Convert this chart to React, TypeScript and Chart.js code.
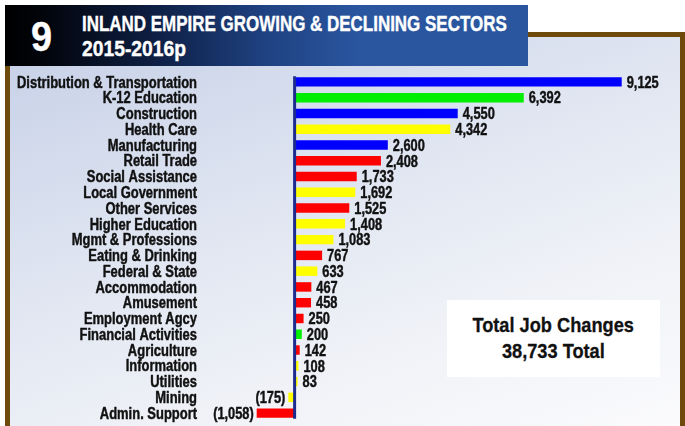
import React, { useEffect, useRef } from "react";
import { Chart, registerables } from "chart.js";

Chart.register(...registerables);

const categories = [
  "Distribution & Transportation",
  "K-12 Education",
  "Construction",
  "Health Care",
  "Manufacturing",
  "Retail Trade",
  "Social Assistance",
  "Local Government",
  "Other Services",
  "Higher Education",
  "Mgmt & Professions",
  "Eating & Drinking",
  "Federal & State",
  "Accommodation",
  "Amusement",
  "Employment Agcy",
  "Financial Activities",
  "Agriculture",
  "Information",
  "Utilities",
  "Mining",
  "Admin. Support",
];

const jobChanges = [
  9125, 6392, 4550, 4342, 2600, 2408, 1733, 1692, 1525, 1408, 1083, 767, 633,
  467, 458, 250, 200, 142, 108, 83, -175, -1058,
];

const BLUE = "#0000ff";
const GREEN = "#00ee00";
const YELLOW = "#ffff00";
const RED = "#ff0000";

const barColors = [
  BLUE, GREEN, BLUE, YELLOW, BLUE, RED, RED, YELLOW, RED, YELLOW, YELLOW, RED,
  YELLOW, RED, RED, RED, GREEN, RED, YELLOW, YELLOW, YELLOW, RED,
];

const titleLine1 = "INLAND EMPIRE GROWING & DECLINING SECTORS";
const titleLine2 = "2015-2016p";
const chartNumber = "9";
const totalLine1 = "Total Job Changes";
const totalLine2 = "38,733 Total";

const FONT = "'Liberation Sans', Arial, Helvetica, sans-serif";
const LABEL_SIZE = 16;
const LABEL_SQUEEZE = 0.81;
const VALUE_SIZE = 16;
const VALUE_SQUEEZE = 0.8;

function fmt(v: number): string {
  const s = Math.abs(v).toLocaleString("en-US");
  return v < 0 ? `(${s})` : s;
}

function squeezedText(
  ctx: CanvasRenderingContext2D,
  text: string,
  x: number,
  y: number,
  align: CanvasTextAlign,
  squeeze: number
) {
  ctx.save();
  ctx.translate(x, y);
  ctx.scale(squeeze, 1);
  ctx.textAlign = align;
  ctx.fillText(text, 0, 0);
  ctx.strokeText(text, 0, 0);
  ctx.restore();
}

const labelPlugin = {
  id: "valueLabels",
  afterDatasetsDraw(chart: any) {
    const ctx: CanvasRenderingContext2D = chart.ctx;
    const meta = chart.getDatasetMeta(0);
    const xs = chart.scales.x;
    const ys = chart.scales.y;
    const x0 = xs.getPixelForValue(0);
    const bars = meta.data;
    if (!bars.length) return;
    const first = bars[0].getProps(["y", "height"], true);
    const last = bars[bars.length - 1].getProps(["y", "height"], true);
    ctx.save();
    // zero axis line
    ctx.strokeStyle = "#1d2b8e";
    ctx.lineWidth = 3;
    ctx.beginPath();
    ctx.moveTo(x0, first.y - first.height / 2 - 1);
    ctx.lineTo(x0, last.y + last.height / 2 + 1);
    ctx.stroke();

    ctx.fillStyle = "#111";
    ctx.strokeStyle = "#111";
    ctx.lineWidth = 0.45;
    ctx.lineJoin = "round";
    ctx.textBaseline = "alphabetic";
    // category labels, positioned by the y scale
    ctx.font = `bold ${LABEL_SIZE}px ${FONT}`;
    const labelRight = ys.right - 8;
    categories.forEach((c, i) => {
      const y = ys.getPixelForValue(i);
      squeezedText(ctx, c, labelRight, y + LABEL_SIZE * 0.355, "right", LABEL_SQUEEZE);
    });
    // value labels
    ctx.font = `bold ${VALUE_SIZE}px ${FONT}`;
    bars.forEach((bar: any, i: number) => {
      const v = jobChanges[i];
      const p = bar.getProps(["x", "y"], true);
      const ty = p.y + VALUE_SIZE * 0.36;
      if (v >= 0) {
        squeezedText(ctx, fmt(v), Math.max(p.x, x0 + 1.5) + 5, ty, "left", VALUE_SQUEEZE);
      } else {
        squeezedText(ctx, fmt(v), p.x - 3, ty, "right", VALUE_SQUEEZE);
      }
    });
    ctx.restore();
  },
};

export default function App() {
  const canvasRef = useRef<HTMLCanvasElement | null>(null);

  useEffect(() => {
    document.body.style.margin = "0";
    const canvas = canvasRef.current;
    if (!canvas) return;
    const chart = new Chart(canvas, {
      type: "bar",
      data: {
        labels: categories,
        datasets: [
          {
            data: jobChanges,
            backgroundColor: barColors,
            borderWidth: 0,
            categoryPercentage: 1,
            barPercentage: 0.6,
          },
        ],
      },
      options: {
        indexAxis: "y",
        responsive: false,
        animation: false,
        layout: { padding: { top: 74, bottom: 5, left: 0, right: 14 } },
        plugins: {
          legend: { display: false },
          tooltip: { enabled: false },
        },
        scales: {
          x: {
            type: "linear",
            min: -2500,
            max: 10500,
            display: false,
          },
          y: {
            grid: { display: false, drawTicks: false },
            border: { display: false },
            ticks: { display: false },
            afterFit: (scale: any) => {
              scale.width = 205;
            },
          },
        },
      },
      plugins: [labelPlugin],
    } as any);
    return () => chart.destroy();
  }, []);

  const squeeze = (s: number): React.CSSProperties => ({
    display: "inline-block",
    transform: `scaleX(${s})`,
    transformOrigin: "left top",
    whiteSpace: "nowrap",
  });

  return (
    <div
      style={{
        position: "absolute",
        left: 0,
        top: 0,
        width: 685,
        height: 426,
        overflow: "hidden",
        background: "#ffffff",
        fontFamily: FONT,
      }}
    >
      {/* framed panel */}
      <div
        style={{
          position: "absolute",
          left: 5,
          top: 32,
          width: 670,
          height: 400,
          borderLeft: "5px solid #6e4a0c",
          borderRight: "5px solid #6e4a0c",
          borderTop: "5px solid #6e4a0c",
          background:
            "linear-gradient(160deg, #c6d0e7 0%, #dfe5f1 40%, #f0f2f7 70%, #fbfbfd 100%)",
        }}
      />
      {/* header */}
      <div
        style={{
          position: "absolute",
          left: 5,
          top: 5,
          width: 523,
          height: 61,
          background:
            "linear-gradient(90deg, #000000 0%, #02050c 8%, #0f2148 30%, #1f4282 50%, #2a56a0 68%, #2a56a0 100%)",
          color: "#ffffff",
          fontWeight: "bold",
          WebkitTextStroke: "0.4px #ffffff",
        }}
      >
        <div
          style={{
            position: "absolute",
            left: 26,
            top: 11,
            fontSize: 42,
            lineHeight: "42px",
          }}
        >
          <span style={squeeze(0.9)}>{chartNumber}</span>
        </div>
        <div
          style={{
            position: "absolute",
            left: 77,
            top: 8,
            fontSize: 22,
            lineHeight: "22px",
          }}
        >
          <span style={squeeze(0.771)}>{titleLine1}</span>
        </div>
        <div
          style={{
            position: "absolute",
            left: 77,
            top: 33,
            fontSize: 22,
            lineHeight: "22px",
          }}
        >
          <span style={squeeze(0.877)}>{titleLine2}</span>
        </div>
      </div>
      <canvas
        ref={canvasRef}
        width={685}
        height={426}
        style={{ position: "absolute", left: 0, top: 0, width: 685, height: 426 }}
      />
      {/* total box */}
      <div
        style={{
          position: "absolute",
          left: 447,
          top: 300,
          width: 213,
          height: 77,
          background: "#ffffff",
          color: "#111",
          textAlign: "center",
          fontWeight: "bold",
          fontSize: 21,
          lineHeight: "26px",
          boxSizing: "border-box",
          paddingTop: 11.5,
          WebkitTextStroke: "0.3px #111",
        }}
      >
        <div>
          <span style={{ ...squeeze(0.867), transformOrigin: "center top" }}>{totalLine1}</span>
        </div>
        <div>
          <span style={{ ...squeeze(0.867), transformOrigin: "center top" }}>{totalLine2}</span>
        </div>
      </div>
    </div>
  );
}
